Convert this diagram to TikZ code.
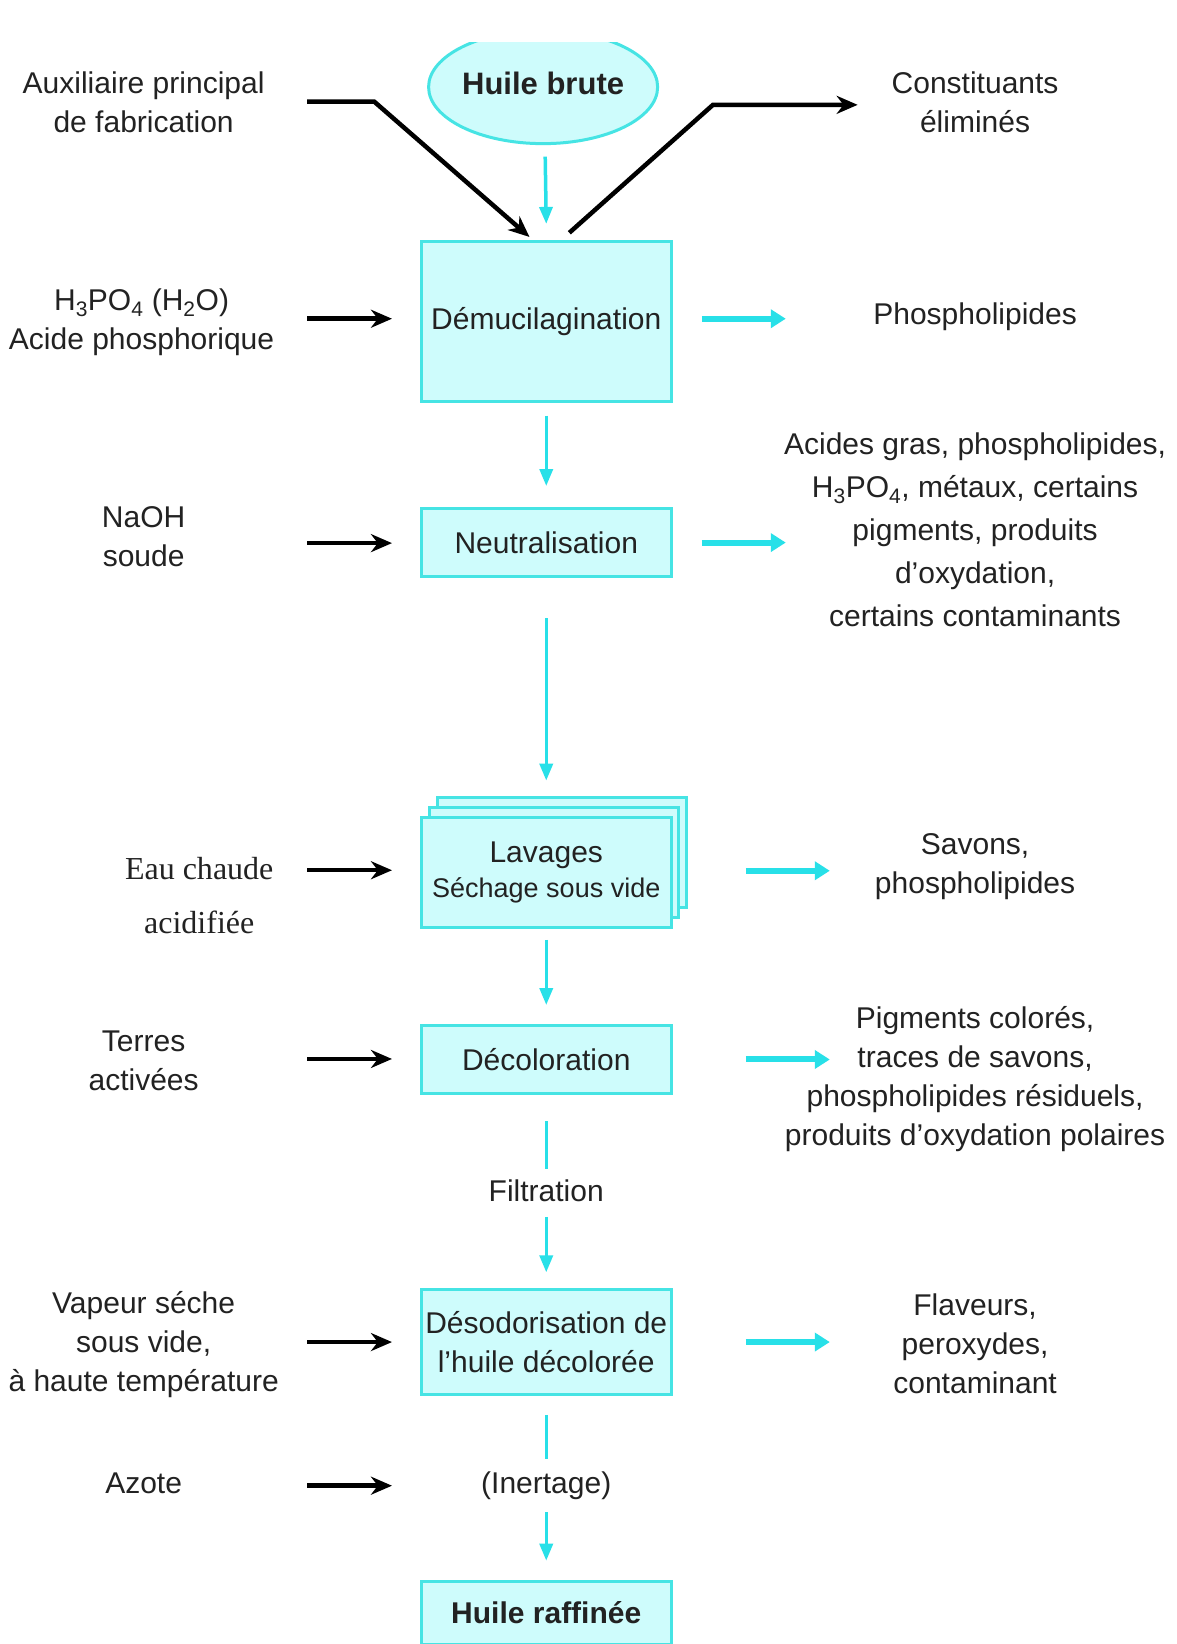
\documentclass[tikz,border=0pt]{standalone}
\usepackage{fontspec}
\setmainfont{Liberation Sans}
\newfontfamily\serifeau{Liberation Serif}
\usetikzlibrary{arrows.meta,calc,shapes.geometric}
\definecolor{boxfill}{RGB}{206,252,252}
\definecolor{boxline}{RGB}{70,228,228}
\definecolor{cy}{RGB}{40,224,232}
\definecolor{txt}{RGB}{34,34,34}
\def\u{1.0481pt}
\tikzset{
  lab/.style={font=\fontsize{30}{39}\selectfont, align=center, text=txt, inner sep=0pt},
  labwide/.style={lab, font=\fontsize{30}{43}\selectfont},
  procbox/.style={draw=boxline, line width=3pt, fill=boxfill, minimum width=238*\u, inner sep=0pt, align=center, text=txt, font=\fontsize{30}{39}\selectfont},
  carr/.style={draw=cy, line width=3.5pt, -{Triangle[length=17pt,width=13pt]}},
  cline/.style={draw=cy, line width=3.5pt},
  carrh/.style={draw=cy, line width=6pt, -{Triangle[length=15pt,width=18pt]}},
  barr/.style={draw=black, line width=4.5pt, -{Stealth[length=21pt,width=18pt]}},
}
\begin{document}
\begin{tikzpicture}[x=1.0481pt,y=-1.0481pt]
\useasboundingbox[fill=white] (0,0) rectangle (1122,1568);

% --- main column ---
\begin{scope}
\clip (0,41) rectangle (1122,1568);
\node[ellipse, draw=boxline, line width=3pt, fill=boxfill, minimum width=196*\u, minimum height=108*\u, inner sep=0pt, text=txt, font=\fontsize{31}{39}\selectfont\bfseries] (brute) at (518,83) {\raisebox{8pt}{Huile brute}};
\end{scope}
\node[procbox, minimum height=153*\u] (demu) at (521,306.5) {Démucilagination};
\node[procbox, minimum height=65*\u] (neut) at (521,517.5) {Neutralisation};
\node[procbox, minimum height=105*\u] (lav3) at (536,813.5) {};
\node[procbox, minimum height=105*\u] (lav2) at (528.5,823) {};
\node[procbox, minimum height=105*\u] (lav) at (521,832.5) {Lavages\\[-4pt]{\fontsize{27}{36}\selectfont Séchage sous vide}};
\node[procbox, minimum height=65*\u] (deco) at (521,1010.5) {Décoloration};
\node[lab] (filt) at (521,1136) {Filtration};
\node[procbox, minimum height=100*\u] (deso) at (521,1280) {Désodorisation de\\l’huile décolorée};
\node[lab] (inert) at (521,1417) {(Inertage)};
\node[procbox, minimum height=60*\u, font=\fontsize{30}{39}\selectfont\bfseries] (raff) at (521,1538) {Huile raffinée};

% --- vertical flow ---
\draw[carr] ($(brute.south)+(2,11)$) -- ($(demu.north)+(0,-15)$);
\draw[carr] ($(demu.south)+(0,12)$) -- ($(neut.north)+(0,-20)$);
\draw[carr] ($(neut.south)+(0,38)$) -- ($(lav3.north)+(-15,-15)$);
\draw[carr] ($(lav.south)+(0,10)$) -- ($(deco.north)+(0,-18)$);
\draw[cline] ($(deco.south)+(0,25)$) -- ($(filt.north)+(0,-10)$);
\draw[carr] ($(filt.south)+(0,14)$) -- ($(deso.north)+(0,-15)$);
\draw[cline] ($(deso.south)+(0,18)$) -- ($(inert.north)+(0,-12)$);
\draw[carr] ($(inert.south)+(0,12)$) -- ($(raff.north)+(0,-18)$);

% --- left inputs ---
\node[lab] (aux) at (137,98) {Auxiliaire principal\\de fabrication};
\node[lab] (h3) at (135,307) {H\textsubscript{3}PO\textsubscript{4} (H\textsubscript{2}O)\\Acide phosphorique};
\node[lab] (naoh) at (137,512) {NaOH\\soude};
\node[lab, font=\serifeau\fontsize{32}{54}\selectfont] (eau) at (190,854) {Eau chaude\\acidifiée};
\node[lab] (terres) at (137,1012) {Terres\\activées};
\node[lab] (vap) at (137,1282) {Vapeur séche\\sous vide,\\à haute température};
\node[lab] (azote) at (137,1415) {Azote};

\coordinate (a1) at (293,97);
\coordinate (a2) at (357,97);
\coordinate (a3) at (505,226);
\draw[barr] (a1) -- (a2) -- (a3);

\coordinate (b1) at (293,304);
\draw[barr, shorten >=28pt] (b1) -- (b1 -| demu.west);
\coordinate (b2) at (293,518);
\draw[barr, shorten >=28pt] (b2) -- (b2 -| neut.west);
\coordinate (b3) at (293,830);
\draw[barr, shorten >=28pt] (b3) -- (b3 -| lav.west);
\coordinate (b4) at (293,1010);
\draw[barr, shorten >=28pt] (b4) -- (b4 -| deco.west);
\coordinate (b5) at (293,1280);
\draw[barr, shorten >=28pt] (b5) -- (b5 -| deso.west);
\coordinate (b6) at (293,1417);
\draw[barr, shorten >=28pt] (b6) -- (b6 -| deso.west);

% --- right outputs ---
\node[lab] (const) at (930,98) {Constituants\\éliminés};
\node[lab] (phos) at (930,302) {Phospholipides};
\node[labwide] (acid) at (930,505) {Acides gras, phospholipides,\\H\textsubscript{3}PO\textsubscript{4}, métaux, certains\\pigments, produits\\d’oxydation,\\certains contaminants};
\node[lab] (sav) at (930,827) {Savons,\\phospholipides};
\node[lab] (pig) at (930,1029) {Pigments colorés,\\traces de savons,\\phospholipides résiduels,\\produits d’oxydation polaires};
\node[lab] (flav) at (930,1282) {Flaveurs,\\peroxydes,\\contaminant};

\coordinate (c1) at (543,222);
\coordinate (c2) at (680,100);
\coordinate (c3) at (818,100);
\draw[barr] (c1) -- (c2) -- (c3);

\draw[carrh] ($(demu.east |- phos)+(28,2)$) -- ($(demu.east |- phos)+(108,2)$);
\draw[carrh] ($(neut.east)+(28,0)$) -- ($(neut.east)+(108,0)$);
\draw[carrh] ($(lav.east)+(70,-2)$) -- ($(lav.east)+(150,-2)$);
\draw[carrh] ($(deco.east)+(70,0)$) -- ($(deco.east)+(150,0)$);
\draw[carrh] ($(deso.east)+(70,0)$) -- ($(deso.east)+(150,0)$);
\end{tikzpicture}
\end{document}
